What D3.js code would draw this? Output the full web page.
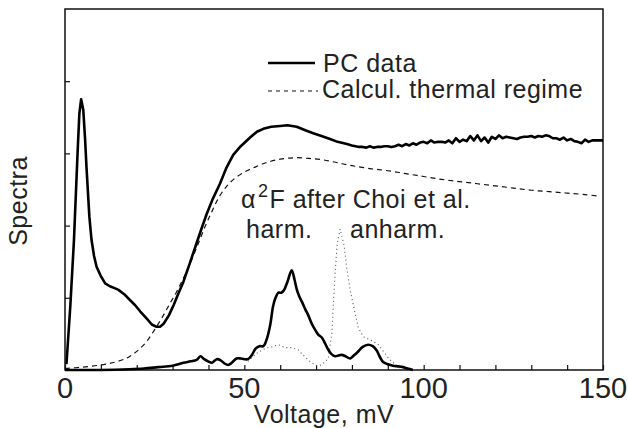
<!DOCTYPE html>
<html>
<head>
<meta charset="utf-8">
<script src="https://cdn.jsdelivr.net/npm/d3@7"></script>
<style>
  html, body { margin: 0; padding: 0; background: #fff; }
  svg { display: block; }
  text { font-family: "Liberation Sans", Arial, Helvetica, sans-serif; fill: #222; }
</style>
</head>
<body>
<svg id="chart" width="628" height="428"></svg>
<script>
// ---- data ----
const xTicks = [0, 50, 100, 150];
const xMinorTicks = [10, 20, 30, 40, 60, 70, 80, 90, 110, 120, 130, 140];
const yTicks = [1, 2, 3, 4];

// PC data (point-contact spectrum), [voltage mV, spectra]
const pcData = [
  [0.4,0.08],[1.5,0.9],[2.5,1.8],[3.5,3.0],[4,3.55],[4.5,3.75],[5.1,3.6],[5.6,3.2],[6,2.8],[6.8,2.12],[7.4,1.8],
  [8.1,1.58],[8.8,1.43],[10,1.3],[11.2,1.2],[12.5,1.16],[14,1.13],[14.9,1.11],[16.5,1.05],[18.1,0.97],
  [19.5,0.9],[21,0.81],[22.8,0.71],[24.2,0.63],[25.4,0.6],[26.5,0.6],[27.5,0.64],[29,0.76],[30.3,0.9],
  [31.7,1.07],[33,1.22],[34.6,1.45],[36.3,1.7],[38,1.95],[39.5,2.16],[41.2,2.37],[43.2,2.58],[45,2.8],
  [46.9,2.98],[49,3.1],[51.6,3.22],[53.5,3.3],[55.3,3.34],[57.5,3.37],[60,3.38],[62,3.39],[64.6,3.37],
  [67,3.32],[69.2,3.28],[71.5,3.24],[73.9,3.2],[76,3.16],[78.6,3.13],
  [80,3.11],[81,3.10],[82,3.09],[83,3.09],[84,3.08],[85,3.10],[86,3.08],[87,3.09],[88,3.09],[89,3.10],
  [90,3.10],[91,3.09],[92,3.10],[93,3.12],[94,3.10],[95,3.13],[96,3.11],[97,3.14],[98,3.12],[99,3.15],
  [100,3.16],[101,3.14],[102,3.18],[103,3.15],[104,3.16],[105,3.16],[106,3.15],[107,3.18],[108,3.14],[109,3.21],
  [110,3.16],[111,3.19],[112,3.17],[113,3.24],[114,3.18],[115,3.25],[116,3.17],[117,3.22],[118,3.15],[119,3.23],
  [120,3.20],[121,3.25],[122,3.21],[123,3.23],[124,3.22],[125,3.21],[126,3.20],[127,3.22],[128,3.23],[129,3.23],
  [130,3.24],[131,3.22],[132,3.24],[133,3.23],[134,3.25],[135,3.24],[136,3.21],[137,3.21],[138,3.19],[139,3.22],
  [140,3.18],[141,3.20],[142,3.17],[143,3.16],[144,3.14],[145,3.19],[146,3.16],[147,3.18],[148,3.18],[149,3.18],[150,3.18]
];

// Calculated thermal regime (dashed)
const thermal = [
  [0,0.02],[5,0.04],[10,0.07],[14,0.11],[17,0.16],[19,0.22],[21,0.3],[23,0.41],[25,0.56],[27,0.72],
  [29,0.9],[31,1.07],[33,1.27],[35,1.49],[37,1.73],[39,1.98],[41,2.2],[43,2.4],[45,2.54],[47,2.64],
  [50,2.74],[53,2.81],[56,2.87],[60,2.92],[64,2.94],[68,2.93],[72,2.91],[76,2.87],[80,2.83],[85,2.79],
  [90,2.76],[95,2.72],[100,2.68],[105,2.64],[110,2.61],[115,2.58],[120,2.55],[125,2.52],[130,2.49],
  [135,2.47],[140,2.45],[145,2.43],[148.5,2.41]
];

// alpha^2F harmonic (solid, bottom)
const harm = [
  [0,0],[10,0],[18,0.01],[22,0.02],[26,0.04],[30,0.06],[33,0.1],[35,0.12],[36.7,0.14],[37.8,0.19],
  [38.8,0.15],[39.9,0.12],[41,0.1],[42.3,0.15],[43.5,0.13],[44.5,0.09],[45.5,0.07],[46.5,0.1],[47.8,0.16],
  [49,0.16],[50,0.15],[51,0.15],[52,0.2],[53.2,0.3],[54.2,0.33],[55.3,0.33],[56.2,0.42],[57.2,0.62],
  [58,0.88],[58.7,1.0],[59.5,1.07],[60.3,1.07],[61,1.1],[62,1.22],[63.2,1.38],[64,1.25],[64.6,1.12],
  [65.3,1.02],[66,0.95],[67,0.84],[67.8,0.76],[68.8,0.64],[69.7,0.56],[70.6,0.49],[71.6,0.45],[72.5,0.37],
  [73.4,0.28],[74.3,0.22],[75.3,0.19],[76.2,0.2],[77.1,0.21],[78.2,0.19],[79.5,0.16],[80.5,0.2],
  [81.6,0.25],[83,0.32],[84.5,0.35],[85.8,0.33],[86.9,0.27],[87.8,0.18],[88.7,0.11],[90,0.08],
  [91.4,0.06],[93,0.05],[94.2,0.04],[95.5,0.02],[97,0]
];

// alpha^2F anharmonic (dotted)
const anharm = [
  [51,0.12],[52.3,0.18],[53.4,0.23],[55.8,0.3],[57.6,0.32],[59.5,0.35],[61.3,0.31],[63.2,0.31],[65,0.28],
  [66.9,0.18],[68.8,0.1],[70.2,0.06],[71.6,0.07],[73.4,0.16],[74.4,0.51],[74.8,0.88],[75.3,1.34],
  [75.9,1.75],[76.7,1.95],[77.8,1.73],[78.5,1.43],[79.5,1.11],[80.9,0.78],[81.8,0.58],[83.2,0.46],
  [85,0.42],[87.4,0.35],[89.2,0.23],[90.6,0.14],[92.5,0.06],[94.3,0]
];

// ---- layout ----
const svg = d3.select("#chart");
const L = 65, R = 603, T = 9, B = 370;
const x = d3.scaleLinear().domain([0, 150]).range([L, R]);
const y = d3.scaleLinear().domain([0, 5]).range([B, T]);
const line = d3.line().x(d => x(d[0])).y(d => y(d[1])).curve(d3.curveLinear);
const smooth = d3.line().x(d => x(d[0])).y(d => y(d[1])).curve(d3.curveCatmullRom.alpha(0.5));

// axes (ticks inward)
const xAxis = d3.axisBottom(x).tickValues(xTicks.concat(xMinorTicks)).tickSize(-5).tickFormat("");
const gx = svg.append("g").attr("transform", `translate(0,${B})`).call(xAxis);
const yAxis = d3.axisLeft(y).tickValues(yTicks).tickSize(-5).tickFormat("");
const gy = svg.append("g").attr("transform", `translate(${L},0)`).call(yAxis);
[gx, gy].forEach(g => {
  g.select(".domain").remove();
  g.selectAll(".tick line").attr("stroke", "#111").attr("stroke-width", 1.2);
});

// tick labels
svg.append("g").selectAll("text").data(xTicks).join("text")
  .attr("x", d => x(d)).attr("y", 398)
  .attr("text-anchor", "middle")
  .style("font-family", '"Liberation Sans Narrow", "Liberation Sans", Arial, sans-serif')
  .style("font-size", "29px")
  .text(d => d);

// frame
svg.append("rect").attr("x", L).attr("y", T).attr("width", R - L).attr("height", B - T)
  .attr("fill", "none").attr("stroke", "#111").attr("stroke-width", 1.5);

// curves
svg.append("path").datum(thermal).attr("d", smooth)
  .attr("fill", "none").attr("stroke", "#111").attr("stroke-width", 1.2).attr("stroke-dasharray", "5,4");
svg.append("path").datum(anharm).attr("d", line)
  .attr("fill", "none").attr("stroke", "#555").attr("stroke-width", 1.1).attr("stroke-dasharray", "1,3");
svg.append("path").datum(harm).attr("d", smooth)
  .attr("fill", "none").attr("stroke", "#000").attr("stroke-width", 2.6).attr("stroke-linejoin", "round");
svg.append("path").datum(pcData).attr("d", line)
  .attr("fill", "none").attr("stroke", "#000").attr("stroke-width", 2.6).attr("stroke-linejoin", "round");

// legend
const txt = (sel) => sel.style("font-size", "25px").style("letter-spacing", "0.5px");
svg.append("line").attr("x1", 268).attr("x2", 315).attr("y1", 63).attr("y2", 63)
  .attr("stroke", "#000").attr("stroke-width", 2.6);
svg.append("text").attr("x", 323).attr("y", 72).call(txt).text("PC data");
svg.append("line").attr("x1", 268).attr("x2", 318).attr("y1", 91).attr("y2", 91)
  .attr("stroke", "#111").attr("stroke-width", 1.2).attr("stroke-dasharray", "4,4");
svg.append("text").attr("x", 322).attr("y", 98).call(txt).text("Calcul. thermal regime");

// annotations
const a = svg.append("text").attr("x", 241).attr("y", 208).call(txt);
a.append("tspan").text("\u03B1");
a.append("tspan").attr("dy", -11).attr("dx", 2).style("font-size", "18px").text("2");
a.append("tspan").attr("dy", 11).attr("dx", 1).text("F after Choi et al.");
svg.append("text").attr("x", 246).attr("y", 238).call(txt).text("harm.");
svg.append("text").attr("x", 350).attr("y", 238).call(txt).text("anharm.");

// axis titles
svg.append("text").attr("x", 324).attr("y", 423).attr("text-anchor", "middle").call(txt).text("Voltage, mV");
svg.append("text").attr("transform", "translate(27,201) rotate(-90)").attr("text-anchor", "middle")
  .call(txt).text("Spectra");
</script>
</body>
</html>
